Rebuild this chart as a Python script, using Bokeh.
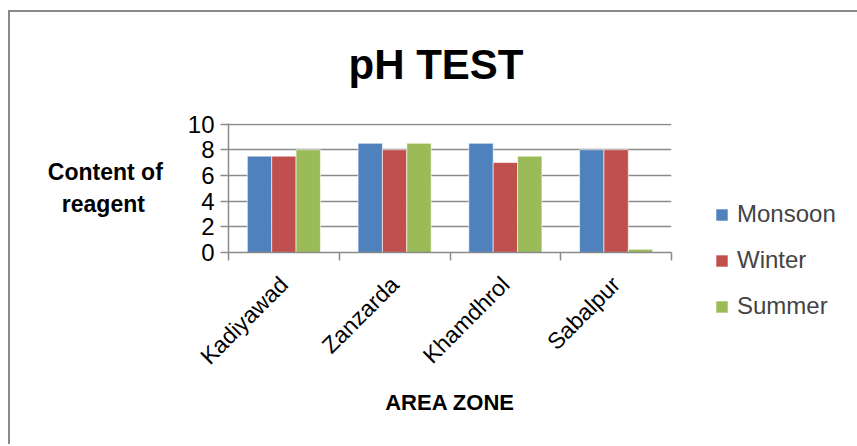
import numpy as np
from bokeh.plotting import figure
from bokeh.models import FixedTicker, Legend, LegendItem, Range1d, Title
from bokeh.embed import file_html
from bokeh.resources import INLINE

# ---- data ----
zones = ["Kadiyawad", "Zanzarda", "Khamdhrol", "Sabalpur"]
monsoon = [7.5, 8.5, 8.5, 8.0]
winter = [7.5, 8.0, 7.0, 8.0]
summer = [8.0, 8.5, 7.5, 0.25]
series_names = ["Monsoon", "Winter", "Summer"]
y_ticks = [0, 2, 4, 6, 8, 10]

colors = ["#4F81BD", "#C0504D", "#9BBB59"]
GRID = "#8a8a8a"
FONT = "Liberation Sans"

p = figure(frame_width=443, frame_height=129, output_backend="svg", toolbar_location=None,
           x_range=Range1d(0, len(zones)), y_range=Range1d(0, 10.04),
           min_border_left=228, min_border_right=184,
           min_border_top=123, min_border_bottom=192)
# chart-area border: only top and left edges are visible in the reference
p.styles = {"background": (
    "linear-gradient(#8a8a8a, #8a8a8a) 8px 10px / calc(100% - 8px) 2px no-repeat, "
    "linear-gradient(#8a8a8a, #8a8a8a) 8px 10px / 2px calc(100% - 10px) no-repeat, white")}
p.outline_line_color = None
p.background_fill_color = "white"
p.border_fill_alpha = 0

centers = np.arange(len(zones)) + 0.5
bw = 0.22
renderers = []
for k, (vals, col) in enumerate(zip([monsoon, winter, summer], colors)):
    r = p.vbar(x=centers + (k - 1) * bw, top=vals, width=bw, bottom=0,
               fill_color=col, line_color="white", line_width=0.6)
    renderers.append(r)

# x axis: labels at centres, tick marks at category boundaries (minor ticks)
xa = p.xaxis[0]
xa.ticker = FixedTicker(ticks=list(centers), minor_ticks=list(range(len(zones) + 1)))
xa.major_label_overrides = {float(c): z for c, z in zip(centers, zones)}
xa.major_label_orientation = np.pi / 4
xa.major_tick_line_color = None
xa.minor_tick_line_color = GRID
xa.minor_tick_line_width = 1.5
xa.minor_tick_in = 0
xa.minor_tick_out = 8
xa.axis_line_color = GRID
xa.axis_line_width = 1.5
xa.major_label_text_font = FONT
xa.major_label_text_font_size = "23px"
xa.major_label_text_color = "black"
xa.major_label_standoff = 20
xa.axis_label = "AREA ZONE"
xa.axis_label_text_font = FONT
xa.axis_label_text_font_style = "bold"
xa.axis_label_text_font_size = "22px"
xa.axis_label_text_color = "black"
xa.axis_label_standoff = 9

ya = p.yaxis[0]
ya.ticker = FixedTicker(ticks=y_ticks)
ya.minor_tick_line_color = None
ya.major_tick_in = 0
ya.major_tick_out = 8
ya.major_tick_line_color = GRID
ya.major_tick_line_width = 1.5
ya.axis_line_color = GRID
ya.axis_line_width = 1.5
ya.major_label_text_font = FONT
ya.major_label_text_font_size = "24px"
ya.major_label_text_color = "black"
ya.major_label_standoff = 6
ya.axis_label = "Content of\nreagent\u00a0\u2002"
ya.axis_label_orientation = "horizontal"
ya.axis_label_text_font = FONT
ya.axis_label_text_font_style = "bold"
ya.axis_label_text_font_size = "23px"
ya.axis_label_text_color = "black"
ya.axis_label_standoff = 22

p.xgrid.grid_line_color = None
p.ygrid.ticker = FixedTicker(ticks=y_ticks)
p.ygrid.grid_line_color = GRID
p.ygrid.grid_line_width = 1.5

p.title = Title(text="pH TEST", align="left", text_font=FONT,
                text_font_style="bold", text_font_size="42px", offset=120,
                standoff=72, text_color="black")

legend = Legend(items=[LegendItem(label=n, renderers=[r]) for n, r in zip(series_names, renderers)],
                location=(43, -68), label_text_font=FONT, label_text_font_size="24px",
                glyph_width=15, glyph_height=15, label_standoff=8, label_height=24,
                spacing=18, padding=0, margin=0, border_line_color=None,
                background_fill_alpha=0)
p.add_layout(legend, "right")

open("out.html", "w").write(file_html(p, INLINE))
